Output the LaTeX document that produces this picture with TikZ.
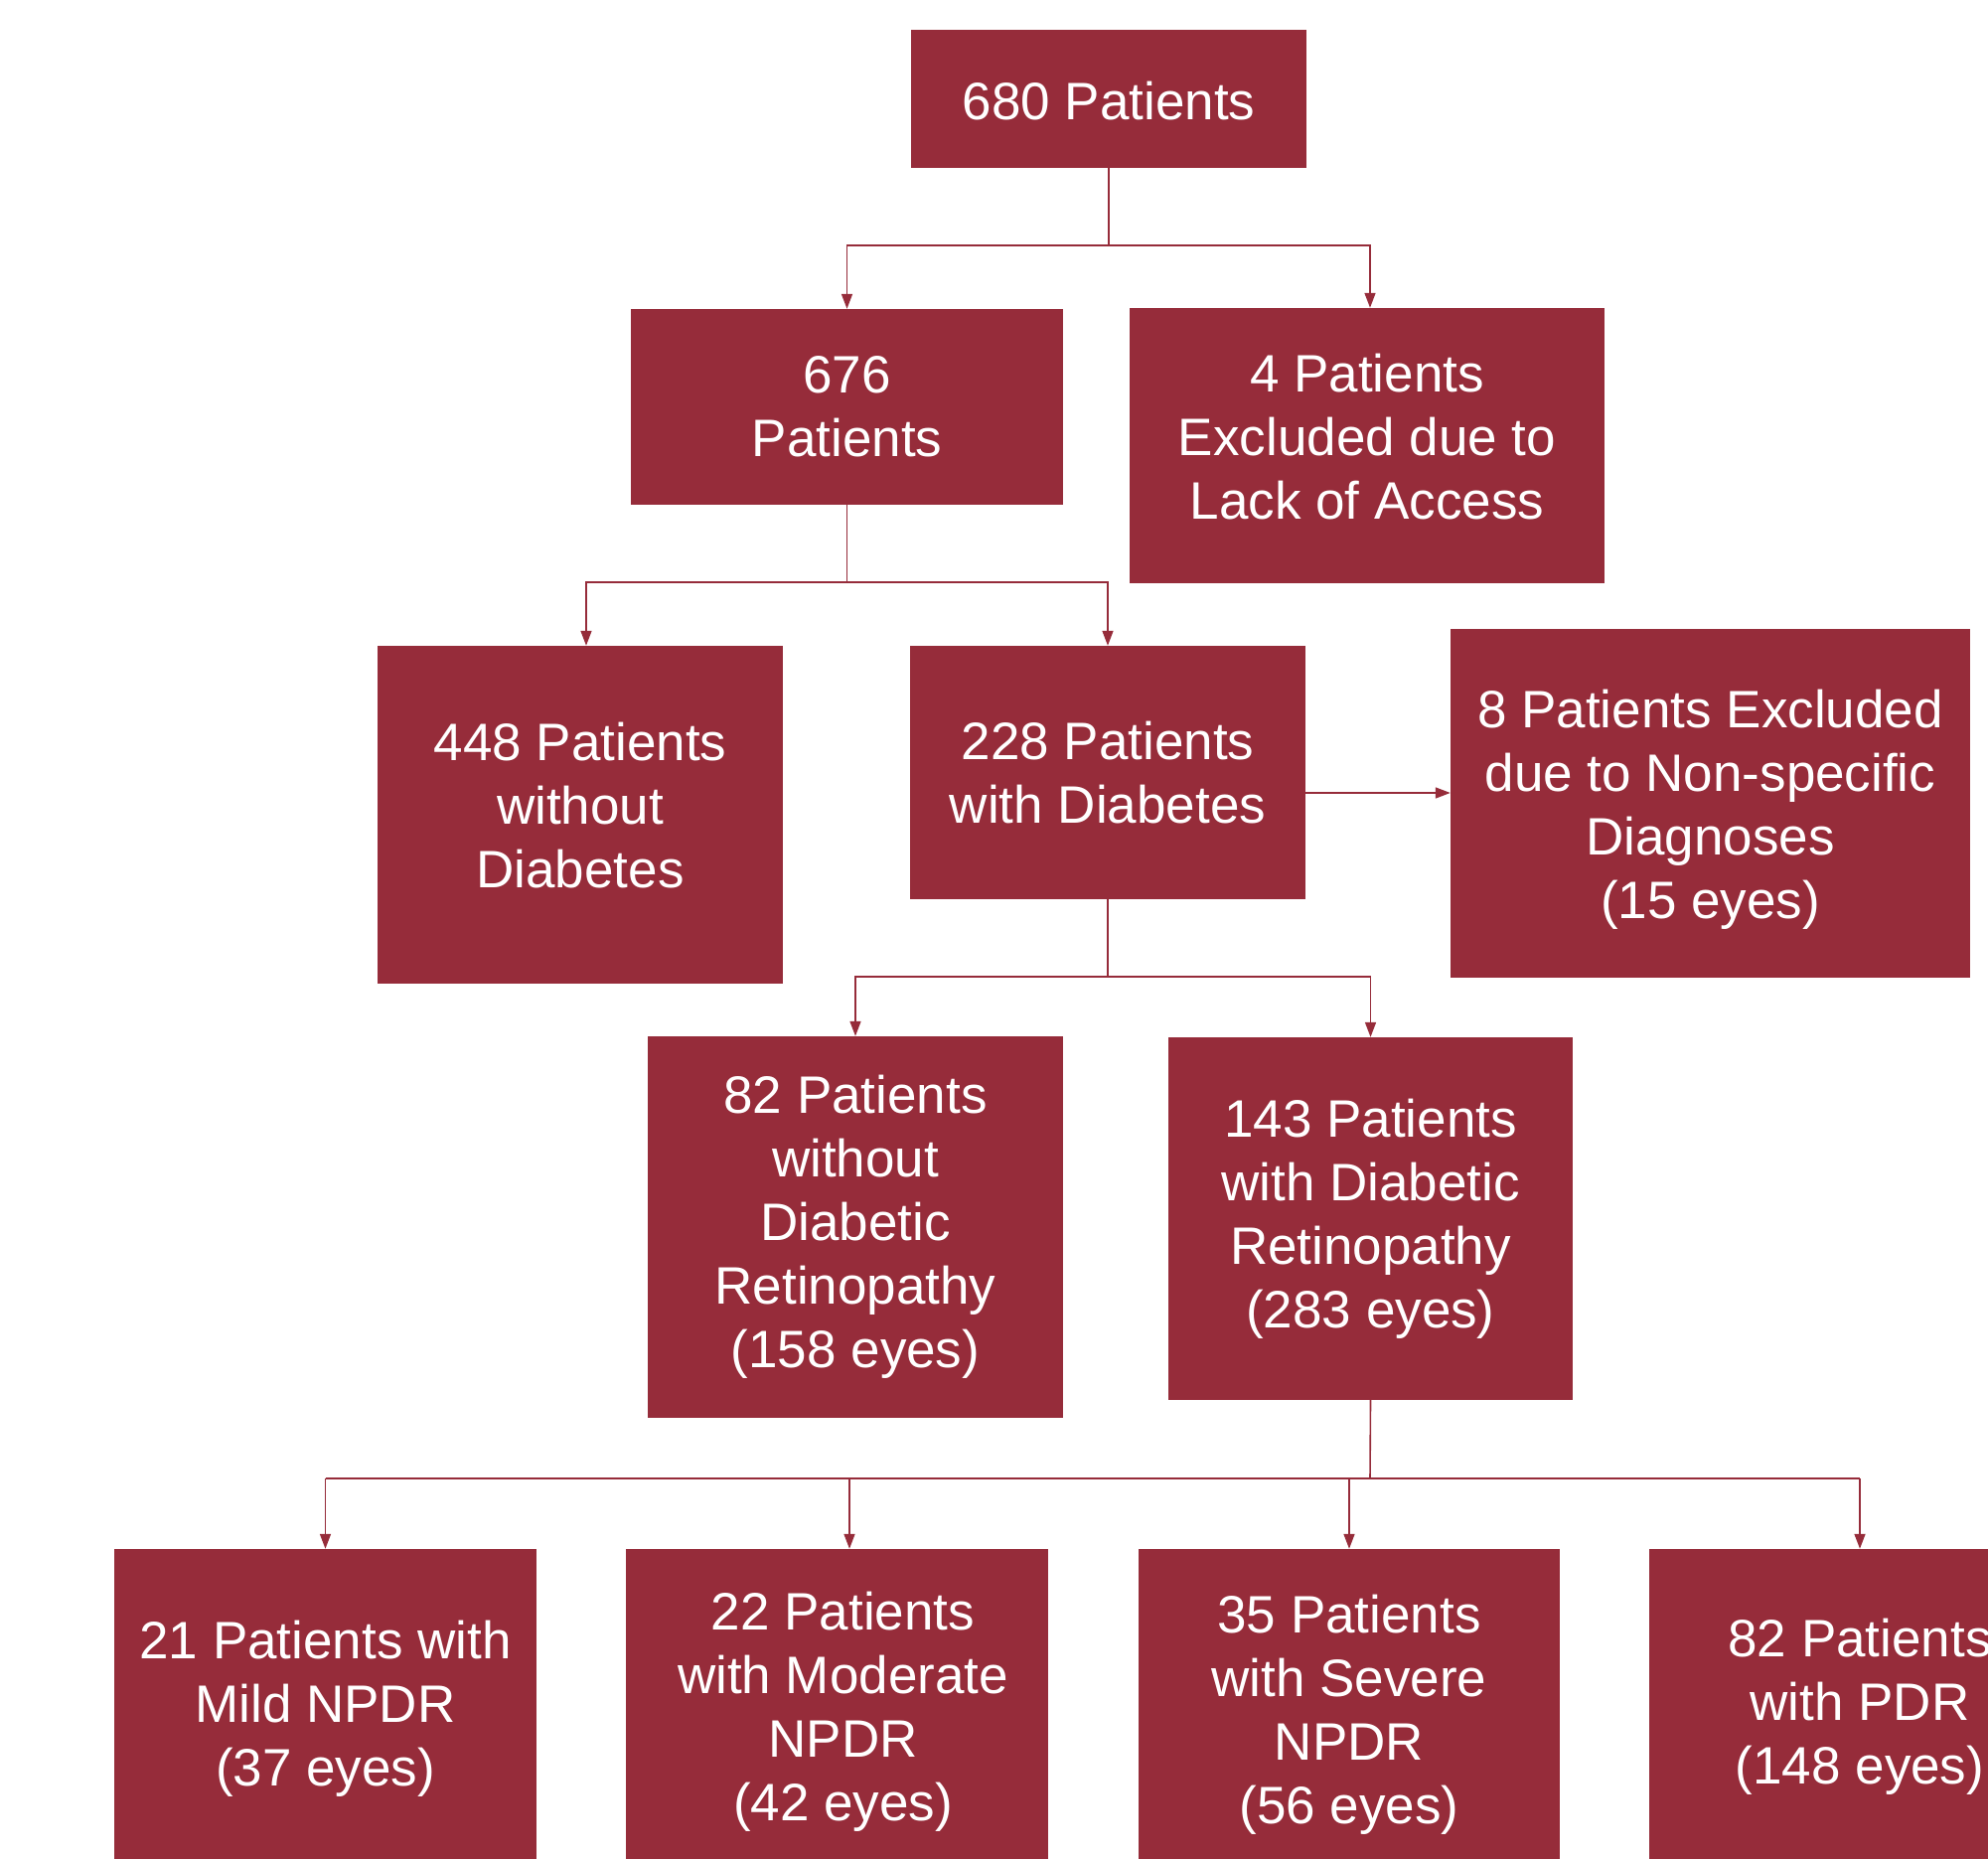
\documentclass[tikz,border=0pt]{standalone}
\usepackage{fontspec}
\setmainfont{Liberation Sans}
\usetikzlibrary{arrows.meta,calc}
\definecolor{boxred}{RGB}{150,44,58}
\tikzset{
  boxx/.style={fill=boxred, inner sep=0pt},
  txt/.style={text=white, inner sep=0pt, align=center,
    font=\fontsize{53}{64}\selectfont},
  conn/.style={draw=boxred, line width=1.6pt},
  arrw/.style={conn, -{Triangle[length=15pt,width=11pt]}}
}
\begin{document}
\begin{tikzpicture}[x=1pt,y=-1pt]
\useasboundingbox (0,0) rectangle (2001,1870);
\clip (0,0) rectangle (2001,1870);
% boxes
\node[boxx, minimum width=398pt, minimum height=139pt] (top) at (1116,99.5) {};
\node[boxx, minimum width=435pt, minimum height=197pt] (n676) at (852.5,409.5) {};
\node[boxx, minimum width=478pt, minimum height=277pt] (ex4) at (1376,448.5) {};
\node[boxx, minimum width=408pt, minimum height=340pt] (nodb) at (584,820) {};
\node[boxx, minimum width=398pt, minimum height=255pt] (db) at (1115,777.5) {};
\node[boxx, minimum width=523pt, minimum height=351pt] (ex8) at (1721.5,808.5) {};
\node[boxx, minimum width=418pt, minimum height=384pt] (nodr) at (861,1235) {};
\node[boxx, minimum width=407pt, minimum height=365pt] (dr) at (1379.5,1226.5) {};
\node[boxx, minimum width=425pt, minimum height=318pt] (mild) at (327.5,1718) {};
\node[boxx, minimum width=425pt, minimum height=318pt] (mod) at (842.5,1718) {};
\node[boxx, minimum width=424pt, minimum height=318pt] (sev) at (1358,1718) {};
\node[boxx, minimum width=425pt, minimum height=318pt] (pdr) at (1872,1718) {};
% texts
\node[txt] (ttop) at ([yshift=-2pt]top.center) {680 Patients};
\node[txt] (t676) at (n676.center) {676\\Patients};
\node[txt] (tex4) at ([yshift=9pt]ex4.center) {4 Patients\\Excluded due to\\Lack of Access};
\node[txt] (tnodb) at ([yshift=9pt]nodb.center) {448 Patients\\without\\Diabetes};
\node[txt] (tdb) at (db.center) {228 Patients\\with Diabetes};
\node[txt] (tex8) at ([yshift=-6pt]ex8.center) {8 Patients Excluded\\due to Non-specific\\Diagnoses\\(15 eyes)};
\node[txt] (tnodr) at (nodr.center) {82 Patients\\without\\Diabetic\\Retinopathy\\(158 eyes)};
\node[txt] (tdr) at (dr.center) {143 Patients\\with Diabetic\\Retinopathy\\(283 eyes)};
\node[txt] (tmild) at ([yshift=-2pt]mild.center) {21 Patients with\\Mild NPDR\\(37 eyes)};
\node[txt] (tmod) at ([xshift=6pt,yshift=-5pt]mod.center) {22 Patients\\with Moderate\\NPDR\\(42 eyes)};
\node[txt] (tsev) at ([yshift=-8pt]sev.center) {35 Patients\\with Severe\\NPDR\\(56 eyes)};
\node[txt] (tpdr) at (pdr.center) {82 Patients\\with PDR\\(148 eyes)};
% branch points
\coordinate (b1) at (1116,247);
\coordinate (b2) at (852.5,586);
\coordinate (b3) at (1115,983);
\coordinate (b4) at (1379,1488);
% connectors
\draw[conn] (top.south) -- (b1);
\draw[arrw] (b1) -| (n676.north);
\draw[arrw] (b1) -| ([xshift=3pt]ex4.north);
\draw[conn] (n676.south) -- (b2);
\draw[arrw] (b2) -| ([xshift=6pt]nodb.north);
\draw[arrw] (b2) -| (db.north);
\draw[arrw] ([yshift=-20.5pt]db.east) -- ([yshift=-20.5pt]db.east -| ex8.west);
\draw[conn] (db.south) -- (b3);
\draw[arrw] (b3) -| (nodr.north);
\draw[arrw] (b3) -| (dr.north);
\draw[conn] (dr.south) -- (b4);
\draw[conn] (mild.north |- b4) -- (pdr.north |- b4);
\draw[arrw] (mild.north |- b4) -- (mild.north);
\draw[arrw] ([xshift=12.5pt]mod.north |- b4) -- ([xshift=12.5pt]mod.north);
\draw[arrw] (sev.north |- b4) -- (sev.north);
\draw[arrw] (pdr.north |- b4) -- (pdr.north);
\end{tikzpicture}
\end{document}
